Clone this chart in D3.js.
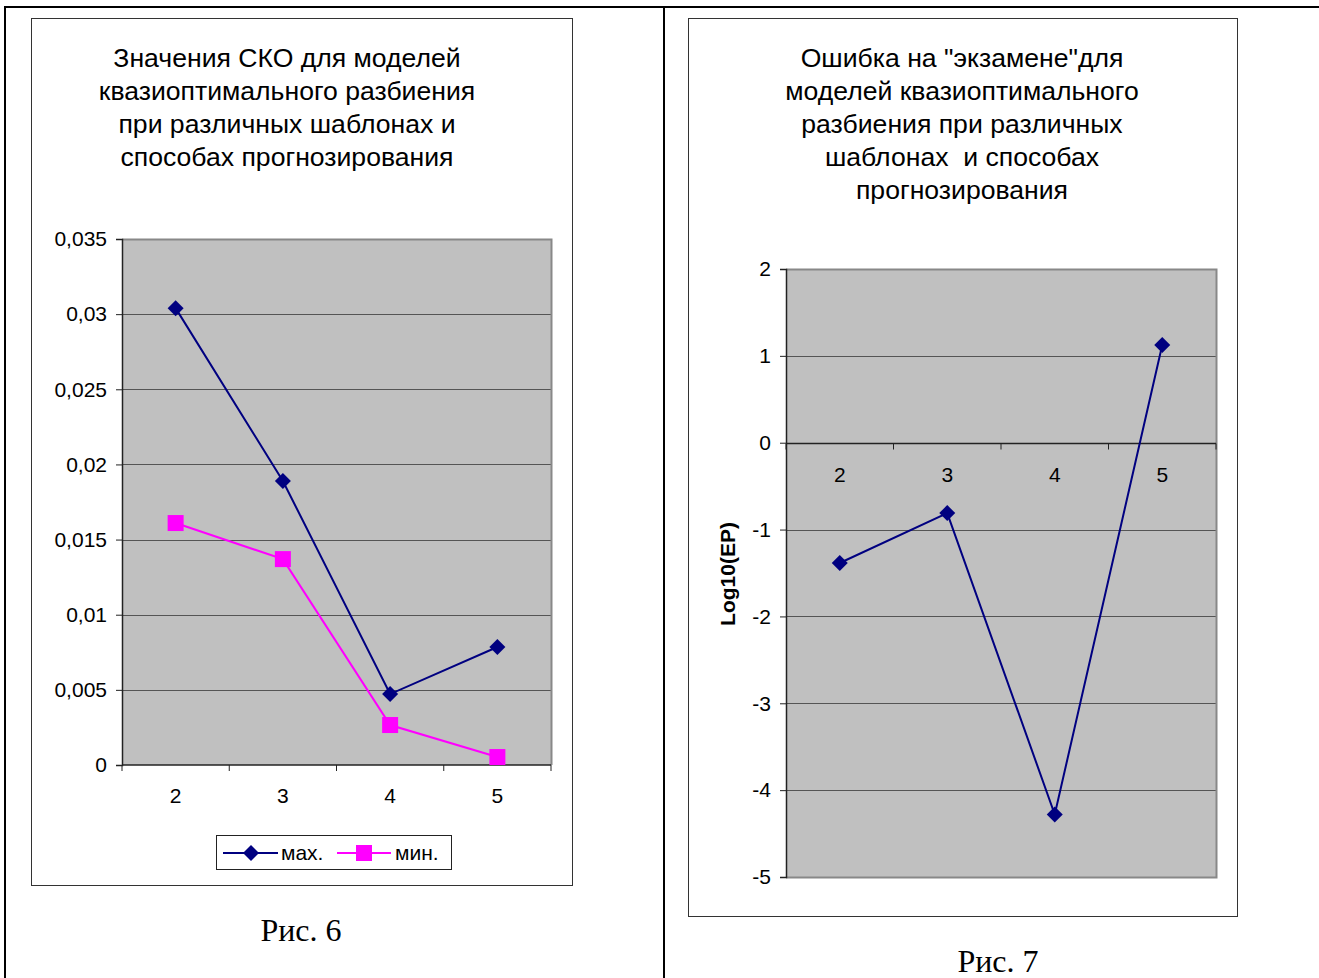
<!DOCTYPE html>
<html><head><meta charset="utf-8">
<script src="https://cdn.jsdelivr.net/npm/d3@7"></script>
<style>body{margin:0;background:#fff}svg{display:block}</style>
</head><body>
<svg id="c" width="1319" height="978"></svg>
<script>
// ---- Data ----
const categories = ["2", "3", "4", "5"];
const maxValues = [0.0304, 0.0189, 0.00472, 0.00785];
const minValues = [0.0161, 0.0137, 0.00266, 0.00053];
const leftTicks = [0, 0.005, 0.01, 0.015, 0.02, 0.025, 0.03, 0.035];
const epValues = [-1.385, -0.81, -4.28, 1.125];
const rightTicks = [-5, -4, -3, -2, -1, 0, 1, 2];
const leftTitle = ["Значения СКО для моделей", "квазиоптимального разбиения", "при различных шаблонах и", "способах прогнозирования"];
const rightTitle = ["Ошибка на \"экзамене\"для", "моделей квазиоптимального", "разбиения при различных", "шаблонах  и способах", "прогнозирования"];
const seriesNames = ["мах.", "мин."];

const svg = d3.select("#c");
const FONT = "Arial, 'Liberation Sans', sans-serif";
const SERIF = "'Times New Roman','Liberation Serif',serif";
const NAVY = "#000080", MAG = "#ff00ff";
const TICKFS = 21, TITLEFS = 26.6;

// table lines
svg.append("line").attr("x1",4).attr("x2",1319).attr("y1",7).attr("y2",7).attr("stroke","#000").attr("stroke-width",2);
svg.append("line").attr("x1",5).attr("x2",5).attr("y1",6).attr("y2",978).attr("stroke","#000").attr("stroke-width",2);
svg.append("line").attr("x1",664).attr("x2",664).attr("y1",6).attr("y2",978).attr("stroke","#000").attr("stroke-width",2);

// chart frames
svg.append("rect").attr("x",31.5).attr("y",18.5).attr("width",541).attr("height",867).attr("fill","#fff").attr("stroke","#333").attr("stroke-width",1);
svg.append("rect").attr("x",688.5).attr("y",18.5).attr("width",549).attr("height",898).attr("fill","#fff").attr("stroke","#333").attr("stroke-width",1);

function diamondPath(g,x,y,color,r){
  g.append("path").attr("d",`M${x},${y-r}L${x+r},${y}L${x},${y+r}L${x-r},${y}Z`).attr("fill",color);
}

// ===== Left chart =====
{
  const L = 122, R = 551, T = 239, B = 765;
  const x = d3.scaleBand().domain(categories).range([L,R]);
  const y = d3.scaleLinear().domain([0,0.035]).range([B,T]);
  const g = svg.append("g");
  g.append("rect").attr("x",L).attr("y",T).attr("width",R-L).attr("height",B-T).attr("fill","#c0c0c0");
  g.selectAll(".gl").data(leftTicks.filter(d=>d>0)).join("line")
    .attr("x1",L).attr("x2",R).attr("y1",d=>Math.round(y(d))+0.5).attr("y2",d=>Math.round(y(d))+0.5)
    .attr("stroke","#555").attr("stroke-width",1.2);
  g.append("path").attr("d",`M${L},${T+0.5}H${R+0.5}V${B}`).attr("fill","none").attr("stroke","#888").attr("stroke-width",2);
  const ya = d3.axisLeft(y).tickValues(leftTicks).tickSize(6).tickPadding(9)
    .tickFormat(d=>d3.format(".3~f")(d).replace(".",","));
  const yg = g.append("g").attr("transform",`translate(${L},0)`).call(ya);
  yg.select(".domain").attr("stroke","#222").attr("stroke-width",1.5);
  yg.selectAll(".tick line").attr("stroke","#222");
  yg.selectAll("text").attr("font-family",FONT).attr("font-size",TICKFS).attr("fill","#000");
  const xg = g.append("g").attr("transform",`translate(0,${B})`);
  xg.append("line").attr("x1",L).attr("x2",R).attr("y1",0).attr("y2",0).attr("stroke","#222").attr("stroke-width",1.5);
  const bounds = categories.map(c=>x(c)).concat([R]);
  xg.selectAll(".tk").data(bounds).join("line").attr("x1",d=>d).attr("x2",d=>d).attr("y1",0).attr("y2",6).attr("stroke","#222");
  xg.selectAll(".lb").data(categories).join("text").attr("x",d=>x(d)+x.bandwidth()/2).attr("y",38)
    .attr("text-anchor","middle").attr("font-family",FONT).attr("font-size",TICKFS).text(d=>d);
  const line = d3.line().x((d,i)=>x(categories[i])+x.bandwidth()/2).y(d=>y(d));
  g.append("path").attr("d",line(minValues)).attr("fill","none").attr("stroke",MAG).attr("stroke-width",2);
  g.append("path").attr("d",line(maxValues)).attr("fill","none").attr("stroke",NAVY).attr("stroke-width",2);
  maxValues.forEach((v,i)=>diamondPath(g, x(categories[i])+x.bandwidth()/2, y(v), NAVY, 8));
  minValues.forEach((v,i)=>g.append("rect").attr("x",x(categories[i])+x.bandwidth()/2-8).attr("y",y(v)-8).attr("width",16).attr("height",16).attr("fill",MAG));
  g.append("text").attr("font-family",FONT).attr("font-size",TITLEFS).attr("text-anchor","middle")
    .selectAll("tspan").data(leftTitle).join("tspan").attr("x",287).attr("y",(d,i)=>67+i*33).text(d=>d);
  const lg = g.append("g");
  lg.append("rect").attr("x",216.5).attr("y",835.5).attr("width",235).attr("height",34).attr("fill","#fff").attr("stroke","#222");
  lg.append("line").attr("x1",223).attr("x2",278).attr("y1",853).attr("y2",853).attr("stroke",NAVY).attr("stroke-width",2);
  diamondPath(lg,251,853,NAVY,8);
  lg.append("text").attr("x",281).attr("y",860).attr("font-family",FONT).attr("font-size",TICKFS).text(seriesNames[0]);
  lg.append("line").attr("x1",337).attr("x2",391).attr("y1",853).attr("y2",853).attr("stroke",MAG).attr("stroke-width",2);
  lg.append("rect").attr("x",356).attr("y",845).attr("width",16).attr("height",16).attr("fill",MAG);
  lg.append("text").attr("x",395).attr("y",860).attr("font-family",FONT).attr("font-size",TICKFS).text(seriesNames[1]);
  svg.append("text").attr("x",301).attr("y",941).attr("text-anchor","middle").attr("font-family",SERIF).attr("font-size",32).text("Рис. 6");
}

// ===== Right chart =====
{
  const L = 786, R = 1216, T = 269, B = 877;
  const x = d3.scaleBand().domain(categories).range([L,R]);
  const y = d3.scaleLinear().domain([-5,2]).range([B,T]);
  const g = svg.append("g");
  g.append("rect").attr("x",L).attr("y",T).attr("width",R-L).attr("height",B-T).attr("fill","#c0c0c0");
  g.selectAll(".gl").data(rightTicks.filter(d=>d>-5 && d<2)).join("line")
    .attr("x1",L).attr("x2",R).attr("y1",d=>Math.round(y(d))+0.5).attr("y2",d=>Math.round(y(d))+0.5)
    .attr("stroke","#555").attr("stroke-width",1.2);
  g.append("path").attr("d",`M${L},${T+0.5}H${R+0.5}V${B+0.5}H${L}`).attr("fill","none").attr("stroke","#888").attr("stroke-width",2);
  const ya = d3.axisLeft(y).tickValues(rightTicks).tickSize(6).tickPadding(9).tickFormat(d=>String(d));
  const yg = g.append("g").attr("transform",`translate(${L},0)`).call(ya);
  yg.select(".domain").attr("stroke","#222").attr("stroke-width",1.5);
  yg.selectAll(".tick line").attr("stroke","#222");
  yg.selectAll("text").attr("font-family",FONT).attr("font-size",TICKFS).attr("fill","#000");
  const y0 = Math.round(y(0))+0.5;
  g.append("line").attr("x1",L).attr("x2",R).attr("y1",y0).attr("y2",y0).attr("stroke","#222").attr("stroke-width",1.5);
  const bounds = categories.map(c=>x(c)).concat([R]);
  g.selectAll(".tk").data(bounds).join("line").attr("x1",d=>d).attr("x2",d=>d).attr("y1",y0).attr("y2",y0+6).attr("stroke","#222");
  g.selectAll(".lb").data(categories).join("text").attr("x",d=>x(d)+x.bandwidth()/2).attr("y",y0+38)
    .attr("text-anchor","middle").attr("font-family",FONT).attr("font-size",TICKFS).text(d=>d);
  const line = d3.line().x((d,i)=>x(categories[i])+x.bandwidth()/2).y(d=>y(d));
  g.append("path").attr("d",line(epValues)).attr("fill","none").attr("stroke",NAVY).attr("stroke-width",2);
  epValues.forEach((v,i)=>diamondPath(g, x(categories[i])+x.bandwidth()/2, y(v), NAVY, 8));
  g.append("text").attr("transform",`translate(735,${(T+B)/2+1}) rotate(-90)`).attr("text-anchor","middle")
    .attr("font-family",FONT).attr("font-size",TICKFS).attr("font-weight","bold").text("Log10(EP)");
  g.append("text").attr("font-family",FONT).attr("font-size",TITLEFS).attr("text-anchor","middle")
    .selectAll("tspan").data(rightTitle).join("tspan").attr("x",962).attr("y",(d,i)=>67+i*33).style("white-space","pre").text(d=>d);
  svg.append("text").attr("x",998).attr("y",972).attr("text-anchor","middle").attr("font-family",SERIF).attr("font-size",32).text("Рис. 7");
}
</script>
</body></html>
